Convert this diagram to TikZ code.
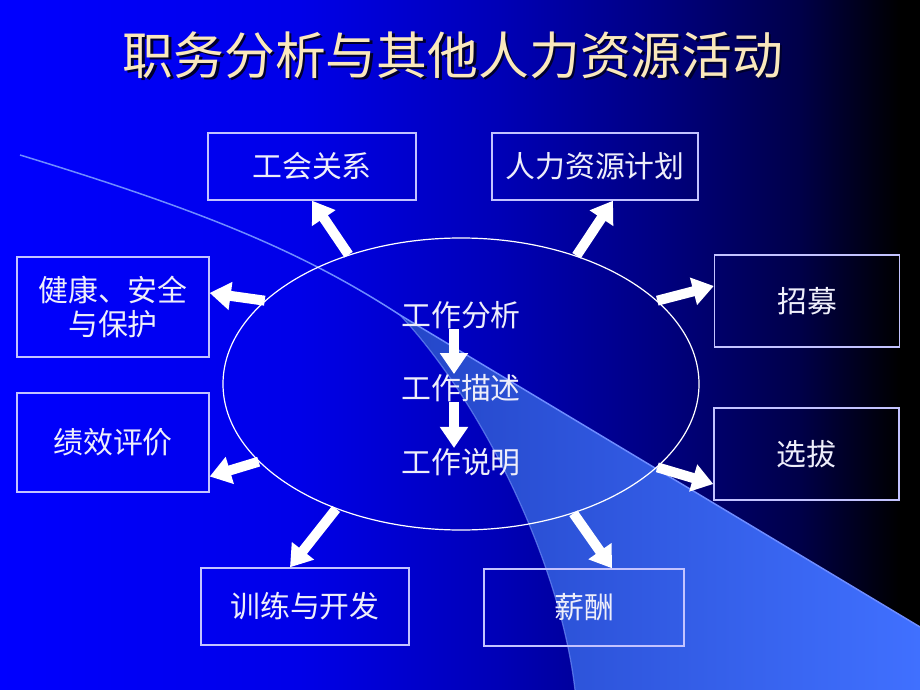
\documentclass[tikz,border=0pt]{standalone}
\usepackage{fontspec}
\newfontfamily\cjk{Noto Sans CJK SC}
\usetikzlibrary{shapes.geometric,arrows.meta}
\definecolor{mybluea}{RGB}{0,0,255}
\definecolor{myblueb}{RGB}{0,0,232}
\definecolor{mybluec}{RGB}{0,0,182}
\definecolor{mybluedd}{RGB}{0,0,128}
\definecolor{myblueee}{RGB}{0,0,72}
\definecolor{myswoosha}{RGB}{36,70,200}
\definecolor{myswooshb}{RGB}{64,112,255}
\definecolor{myline}{RGB}{110,140,255}
\definecolor{myedge}{RGB}{195,195,255}
\definecolor{mytext}{RGB}{238,238,250}
\definecolor{mycream}{RGB}{250,232,188}
\definecolor{myshadow}{RGB}{0,0,45}
\pgfdeclarehorizontalshading{mybg}{100bp}{color(0bp)=(mybluea); color(25bp)=(mybluea);
  color(41.3bp)=(myblueb); color(52.2bp)=(mybluec); color(60.9bp)=(mybluedd);
  color(68.5bp)=(myblueee); color(73.9bp)=(black); color(100bp)=(black)}

\begin{document}
\begin{tikzpicture}[
  x=1bp, y=-1bp,
  mybox/.style={
    draw=myedge,
    line width=1.4bp,
    text=mytext,
    font=\cjk\fontsize{30}{35}\selectfont,
    inner sep=0pt,
    align=center
    },
  mystep/.style={text=mytext, font=\cjk\fontsize{30}{33}\selectfont, inner sep=0pt},
  myarrow/.style={white, line width=10bp, -{Triangle[width=27bp,length=21bp]}}
]
\useasboundingbox (0,0) rectangle (920,690);
\fill[shading=mybg] (0,0) rectangle (920,690);

% swoosh
\fill[left color=myswoosha, right color=myswooshb] (400,315) -- (920,627) -- (920,690) -- (575,690)
  .. controls (560,560) and (480,400) .. (400,315);
\draw[myline, line width=1.5bp] (20,155) .. controls (200,210) and (300,250) .. (400,315) -- (920,627);
\draw[myline, line width=1.2bp, opacity=0.7] (400,315) .. controls (480,400) and (560,560) .. (575,690);

% title
\node[text=myshadow, font=\cjk\fontsize{51}{56}\selectfont, inner sep=0pt] (titleshadow) at (455.5,57.5) {职务分析与其他人力资源活动};
\node[text=mycream, font=\cjk\fontsize{51}{56}\selectfont, inner sep=0pt] (title) at (453,55) {职务分析与其他人力资源活动};

% centre
\node[draw=white, line width=1.2bp, ellipse, minimum width=476bp, minimum height=292bp, inner sep=0pt] (core) at (461,384) {};
\node[mystep] (ana) at (461,315) {工作分析};
\node[mystep] (desc) at (461,388) {工作描述};
\node[mystep] (spec) at (461,462) {工作说明};
\draw[myarrow] ([xshift=-7bp]ana.south) -- ([xshift=-7bp]desc.north);
\draw[myarrow] ([xshift=-7bp]desc.south) -- ([xshift=-7bp]spec.north);

% boxes
\node[mybox, minimum width=208bp, minimum height=67bp] (union) at (312,166.5) {工会关系};
\node[mybox, minimum width=206bp, minimum height=67bp] (plan) at (595,166.5) {人力资源计划};
\node[mybox, minimum width=192bp, minimum height=100bp] (safe) at (113,307) {健康、安全\\与保护};
\node[mybox, minimum width=192bp, minimum height=99bp] (perf) at (113,442.5) {绩效评价};
\node[mybox, minimum width=185bp, minimum height=92bp] (recruit) at (807,301) {招募};
\node[mybox, minimum width=185bp, minimum height=92bp] (select) at (806.5,454) {选拔};
\node[mybox, minimum width=208bp, minimum height=77bp] (train) at (305,606.5) {训练与开发};
\node[mybox, minimum width=200bp, minimum height=77bp] (pay) at (584,607.5) {薪酬};

\draw[myarrow] (core.131) -- (union.south);
\draw[myarrow] (core.48) -- ([xshift=18bp]plan.south);
\draw[myarrow] (core.157) -- ([yshift=14bp]safe.east);
\draw[myarrow] (core.201) -- ([yshift=-34bp]perf.east);
\draw[myarrow] (core.23) -- ([yshift=15bp]recruit.west);
\draw[myarrow] (core.337) -- ([yshift=-30bp]select.west);
\draw[myarrow] (core.225) -- ([xshift=-15bp]train.north);
\draw[myarrow] (core.311) -- ([xshift=28bp]pay.north);

\end{tikzpicture}
\end{document}
